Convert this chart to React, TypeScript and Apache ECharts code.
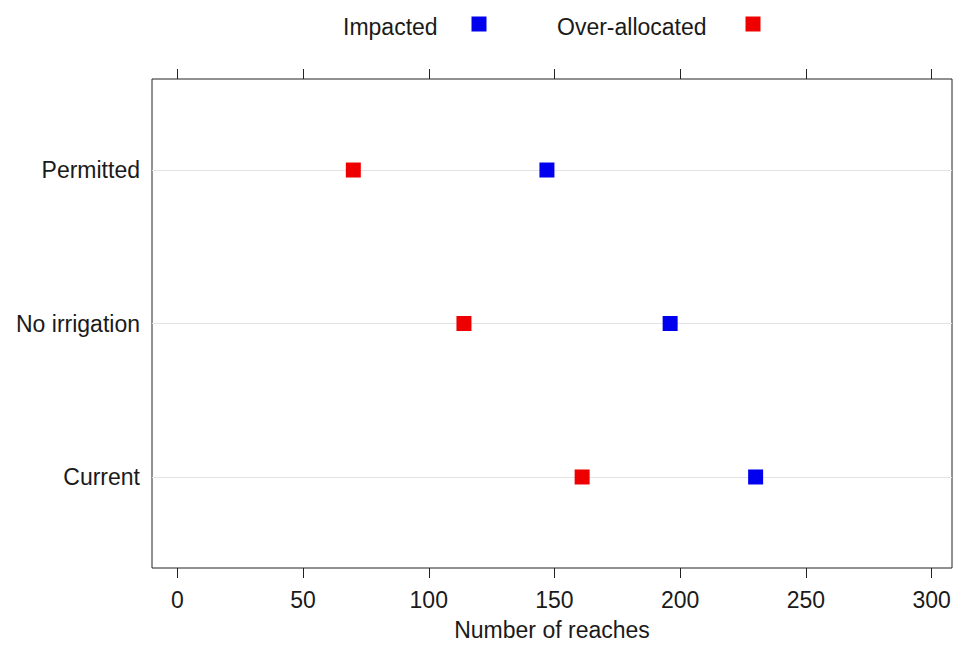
import React, { useEffect, useRef } from "react";
import * as echarts from "echarts";

const categories = ["Current", "No irrigation", "Permitted"];
const impacted = [230, 196, 147];
const overAllocated = [161, 114, 70];
const xTicks = [0, 50, 100, 150, 200, 250, 300];
const seriesNames = ["Impacted", "Over-allocated"];
const seriesColors = ["#0000ee", "#ee0000"];
const xTitle = "Number of reaches";

const FONT = "'Liberation Sans', Arial, sans-serif";
const TEXT = "#1a1a1a";
const FS = 23;

export default function App() {
  const ref = useRef<HTMLDivElement>(null);
  useEffect(() => {
    document.body.style.margin = "0";
    const chart = echarts.init(ref.current!, null, { renderer: "svg" });
    const yIdx = categories.map((_, i) => i + 1);
    const legendX = [343, 557];
    const legendBoxX = [479, 753];
    const option: any = {
      animation: false,
      backgroundColor: "#ffffff",
      textStyle: { fontFamily: FONT },
      grid: {
        left: 152,
        top: 79,
        right: 2,
        bottom: 85,
        show: true,
        borderColor: "#222",
        borderWidth: 1,
        backgroundColor: "transparent",
      },
      xAxis: [
        {
          type: "value",
          position: "bottom",
          min: -10.07,
          max: 308.1,
          axisLine: { show: false },
          axisTick: { show: true, length: 10, customValues: xTicks, lineStyle: { color: "#222" } },
          axisLabel: {
            show: true,
            customValues: xTicks,
            fontSize: FS,
            color: TEXT,
            fontFamily: FONT,
            margin: 20,
          },
          splitLine: { show: false },
          name: xTitle,
          nameLocation: "middle",
          nameGap: 50,
          nameTextStyle: { fontSize: FS, color: TEXT, fontFamily: FONT },
        },
        {
          type: "value",
          position: "top",
          min: -10.07,
          max: 308.1,
          axisLine: { show: false },
          axisTick: { show: true, length: 10, customValues: xTicks, lineStyle: { color: "#222" } },
          axisLabel: { show: false },
          splitLine: { show: false },
        },
      ],
      yAxis: {
        type: "value",
        min: 0.407,
        max: 3.593,
        axisLine: { show: false },
        axisTick: { show: false },
        splitLine: { show: false },
        axisLabel: {
          customValues: yIdx,
          formatter: (v: number) => categories[Math.round(v) - 1] ?? "",
          fontSize: FS,
          color: TEXT,
          fontFamily: FONT,
          margin: 12,
          padding: [4, 0, 0, 0],
        },
      },
      graphic: seriesNames.flatMap((name, i) => [
        {
          type: "text",
          left: legendX[i],
          top: 15,
          style: { text: name, fontSize: FS, fontFamily: FONT, fill: TEXT },
        },
        {
          type: "rect",
          shape: { x: legendBoxX[i] - 7.5, y: 16.5, width: 15, height: 15 },
          style: { fill: seriesColors[i] },
        },
      ]),
      series: [
        {
          name: seriesNames[0],
          type: "scatter",
          symbol: "rect",
          symbolSize: 15,
          itemStyle: { color: seriesColors[0], opacity: 1 },
          data: impacted.map((v, i) => [v, yIdx[i]]),
          z: 3,
          markLine: {
            silent: true,
            symbol: "none",
            z: 1,
            label: { show: false },
            lineStyle: { color: "#e3e3e3", width: 1.2, type: "solid" },
            data: yIdx.map((y) => ({ yAxis: y })),
          },
        },
        {
          name: seriesNames[1],
          type: "scatter",
          symbol: "rect",
          symbolSize: 15,
          itemStyle: { color: seriesColors[1], opacity: 1 },
          data: overAllocated.map((v, i) => [v, yIdx[i]]),
          z: 3,
        },
      ],
    };
    chart.setOption(option);
    return () => chart.dispose();
  }, []);
  return <div ref={ref} style={{ width: 954, height: 653 }} />;
}
